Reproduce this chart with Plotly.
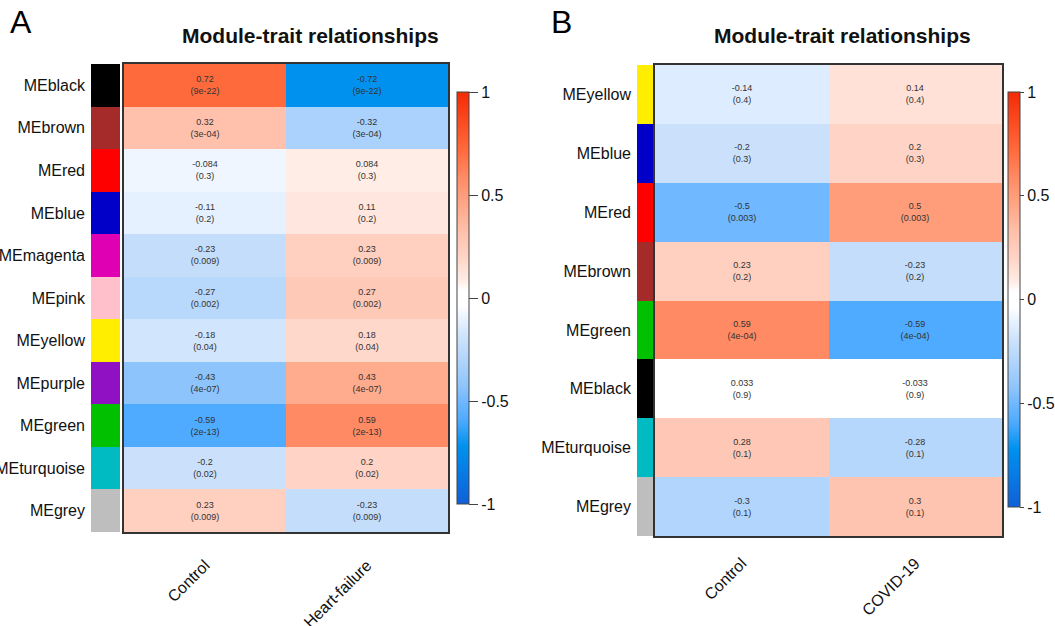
import plotly.graph_objects as go

W, H = 1055, 626

# ---------------- data ----------------
traits_a = ["Control", "Heart-failure"]
modules_a = ["MEblack", "MEbrown", "MEred", "MEblue", "MEmagenta", "MEpink",
             "MEyellow", "MEpurple", "MEgreen", "MEturquoise", "MEgrey"]
module_colors_a = ["#000000", "#A52A2A", "#FF0000", "#0000C8", "#E000B4", "#FFC0CB",
                   "#FFEE00", "#9010C4", "#00C000", "#00BBC2", "#BEBEBE"]
cor_control_a = [0.72, 0.32, -0.084, -0.11, -0.23, -0.27, -0.18, -0.43, -0.59, -0.2, 0.23]
cor_hf_a = [-0.72, -0.32, 0.084, 0.11, 0.23, 0.27, 0.18, 0.43, 0.59, 0.2, -0.23]
p_a = ["9e-22", "3e-04", "0.3", "0.2", "0.009", "0.002", "0.04", "4e-07", "2e-13", "0.02", "0.009"]

traits_b = ["Control", "COVID-19"]
modules_b = ["MEyellow", "MEblue", "MEred", "MEbrown", "MEgreen", "MEblack",
             "MEturquoise", "MEgrey"]
module_colors_b = ["#FFEE00", "#0000C8", "#FF0000", "#A52A2A", "#00C000", "#000000",
                   "#00BBC2", "#BEBEBE"]
cor_control_b = [-0.14, -0.2, -0.5, 0.23, 0.59, 0.033, 0.28, -0.3]
cor_covid_b = [0.14, 0.2, 0.5, -0.23, -0.59, -0.033, -0.28, 0.3]
p_b = ["0.4", "0.3", "0.003", "0.2", "4e-04", "0.9", "0.1", "0.1"]

cb_vals = [-1, -0.5, 0, 0.5, 1]
cb_text = ["-1", "-0.5", "0", "0.5", "1"]

# ---------------- style ----------------
FONT = "Arial, Liberation Sans, sans-serif"
colorscale = [
    [0.0, "#1060D8"], [0.14, "#0091EE"], [0.205, "#4FABFF"], [0.25, "#70B8FF"],
    [0.285, "#8DC4FB"], [0.35, "#B1D5FC"], [0.40, "#CBE1FB"], [0.445, "#E6F1FF"],
    [0.482, "#FFFFFF"], [0.518, "#FFFFFF"], [0.542, "#FFEDE6"], [0.6, "#FFD4C6"],
    [0.66, "#FFC1AC"], [0.715, "#FFAB8D"], [0.75, "#FF9D7A"], [0.795, "#FF8A63"],
    [0.86, "#FF6A3C"], [1.0, "#F52A05"],
]


def px_x(v):
    return v / W


def px_y(v):
    return 1 - v / H


def fmt(v):
    return f"{v:g}"


fig = go.Figure()


def add_panel(idx, modules, colors, cols, traits, pvals,
              hx0, hx1, sx0, sx1, y0, y1, cbx, cby0, cby1, cbticklen, standoff):
    hx = "x" if idx == 1 else f"x{2*idx-1}"
    sx = f"x{2*idx}"
    hy = "y" if idx == 1 else f"y{2*idx-1}"
    sy = f"y{2*idx}"
    z = [[cols[0][i], cols[1][i]] for i in range(len(modules))]
    txt = [[f"{fmt(cols[0][i])}<br>({pvals[i]})", f"{fmt(cols[1][i])}<br>({pvals[i]})"]
           for i in range(len(modules))]
    fig.add_trace(go.Heatmap(
        z=z, x=traits, y=modules, text=txt, texttemplate="%{text}",
        textfont=dict(size=9, color="#333333", family=FONT),
        colorscale=colorscale, zmin=-1, zmax=1, xgap=0, ygap=0,
        xaxis=hx, yaxis=hy,
        colorbar=dict(
            x=px_x(cbx), xanchor="left", xref="paper",
            y=px_y((cby0 + cby1) / 2), yanchor="middle", yref="paper",
            len=(cby1 - cby0) / H, lenmode="fraction",
            thickness=12, thicknessmode="pixels",
            outlinewidth=1, outlinecolor="#444444",
            tickvals=cb_vals, ticktext=cb_text, ticks="outside",
            ticklen=cbticklen, tickcolor="#444444", tickwidth=1,
            tickfont=dict(size=16, color="#111111", family=FONT),
            xpad=0, ypad=0,
        ),
        showscale=True,
    ))
    fig.add_trace(go.Bar(
        x=[1] * len(modules), y=modules, orientation="h", width=1,
        marker=dict(color=colors, line=dict(width=0)),
        xaxis=sx, yaxis=sy, showlegend=False, hoverinfo="y",
    ))
    lay = {}
    xk = "xaxis" if idx == 1 else f"xaxis{2*idx-1}"
    yk = "yaxis" if idx == 1 else f"yaxis{2*idx-1}"
    lay[xk] = dict(domain=[px_x(hx0), px_x(hx1)], anchor=hy, tickangle=-45,
                   ticks="", ticklabelstandoff=standoff, automargin=False,
                   tickfont=dict(size=16, color="#111111", family=FONT),
                   showline=True, mirror=True, linecolor="#333333", linewidth=1.5,
                   showgrid=False, zeroline=False)
    lay[yk] = dict(domain=[px_y(y1), px_y(y0)], anchor=hx, autorange="reversed",
                   showticklabels=False, ticks="", showline=True, mirror=True,
                   automargin=False,
                   linecolor="#333333", linewidth=1.5, showgrid=False, zeroline=False)
    lay[f"xaxis{2*idx}"] = dict(domain=[px_x(sx0), px_x(sx1)], anchor=sy, range=[0, 1],
                               visible=False, fixedrange=True, automargin=False)
    lay[f"yaxis{2*idx}"] = dict(domain=[px_y(y1), px_y(y0)], anchor=sx, autorange="reversed",
                               ticks="", ticklabelstandoff=5, showline=False,
                               showgrid=False, zeroline=False, automargin=False,
                               tickfont=dict(size=16, color="#111111", family=FONT))
    fig.update_layout(**lay)


add_panel(1, modules_a, module_colors_a, [cor_control_a, cor_hf_a], traits_a, p_a,
          124, 448, 91, 120, 64, 532, 457, 92, 504, 9, 16)
add_panel(2, modules_b, module_colors_b, [cor_control_b, cor_covid_b], traits_b, p_b,
          655, 1002, 637, 653, 65, 536, 1008, 92, 507, 4, 10)

annotations = [
    dict(text="<b>Module-trait relationships</b>", x=px_x(310), y=px_y(36),
         xref="paper", yref="paper", showarrow=False,
         font=dict(size=21, color="#111111", family=FONT), xanchor="center", yanchor="middle"),
    dict(text="<b>Module-trait relationships</b>", x=px_x(842), y=px_y(36),
         xref="paper", yref="paper", showarrow=False,
         font=dict(size=21, color="#111111", family=FONT), xanchor="center", yanchor="middle"),
    dict(text="A", x=px_x(8), y=px_y(22), xref="paper", yref="paper", showarrow=False,
         font=dict(size=32, color="#000000", family=FONT), xanchor="left", yanchor="middle"),
    dict(text="B", x=px_x(549), y=px_y(22), xref="paper", yref="paper", showarrow=False,
         font=dict(size=32, color="#000000", family=FONT), xanchor="left", yanchor="middle"),
]

fig.update_layout(
    width=W, height=H, margin=dict(l=0, r=0, t=0, b=0, autoexpand=False),
    paper_bgcolor="white", plot_bgcolor="white",
    bargap=0, showlegend=False, annotations=annotations,
    font=dict(family=FONT),
)

fig.write_html("out.html", config={"displayModeBar": False},
               post_script="document.body.style.margin='0';document.body.style.overflow='hidden';")
